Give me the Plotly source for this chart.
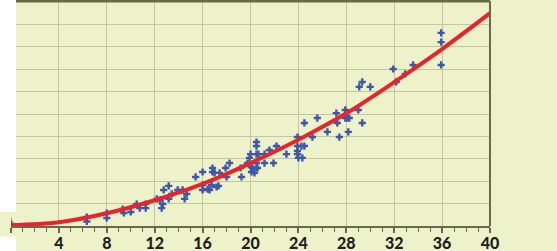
import plotly.graph_objects as go

obs_x = [6.33, 6.33, 8.0, 8.0, 9.33, 9.42, 10.0, 10.5, 10.75, 11.25, 11.25,
         12.17, 12.42, 12.58, 12.67, 12.75, 13.17, 13.17, 13.42, 13.92, 14.33, 14.5, 14.67,
         15.42, 16.0, 16.0, 16.0, 16.42, 16.58, 16.75, 16.83, 16.83, 17.0, 17.17, 17.33,
         17.42, 17.92, 18.0, 18.25, 19.25, 19.17, 19.75, 19.92, 20.0, 20.08, 20.08, 20.17,
         20.33, 20.5, 20.5, 20.5, 20.5, 20.5, 20.58, 20.67, 21.17, 21.17, 21.58, 22.17,
         21.92, 23.0, 23.92, 23.92, 23.92, 23.92, 24.0, 24.33, 24.25, 24.5, 24.5, 25.17,
         25.58, 26.42, 27.17, 27.25, 27.42, 27.92, 27.92, 28.08, 28.25, 28.17, 29.0, 29.33,
         29.08, 29.33, 30.0, 31.92, 32.17, 32.92, 33.58, 35.92, 35.92, 35.92]
obs_y = [4.0, 2.0, 5.8, 3.6, 7.6, 5.8, 6.25, 9.8, 8.0, 9.8, 8.0,
         12.1, 11.6, 8.0, 9.8, 16.1, 17.9, 12.1, 14.3, 16.1, 16.1, 12.1, 14.3,
         21.9, 24.1, 18.3, 16.1, 16.5, 16.1, 18.3, 25.9, 24.1, 23.7, 17.4, 17.9,
         23.7, 25.9, 21.9, 28.1, 21.9, 25.9, 28.1, 30.4, 32.1, 26.3, 24.1, 25.9,
         23.7, 25.9, 28.1, 32.1, 35.7, 37.5, 25.9, 32.1, 32.1, 28.1, 33.9, 35.7,
         28.1, 32.1, 39.7, 35.7, 33.5, 32.1, 30.4, 30.4, 35.7, 35.7, 46.0, 39.7,
         48.2, 42.0, 50.4, 46.0, 39.7, 51.8, 48.2, 48.2, 48.2, 42.0, 51.8, 46.0,
         62.1, 64.3, 62.1, 70.1, 64.3, 67.9, 71.9, 86.2, 82.1, 71.9]

# fitted trend curve
fit_x = [0, 4, 8, 12, 16, 20, 24, 28, 32, 36, 40]
fit_y = [0.4, 1.7, 5.7, 11.5, 18.8, 28.1, 38.5, 50.3, 64.2, 79.0, 95.0]

x_ticks = [0, 4, 8, 12, 16, 20, 24, 28, 32, 36, 40]
x_labels = [str(v) for v in x_ticks]

BG = "#eef2cb"
GRID = "#c4c69c"
AXIS = "#6a6a4a"

fig = go.Figure()
fig.add_trace(go.Scatter(
    x=obs_x, y=obs_y, mode="markers",
    marker=dict(symbol="cross", size=6, color="#3d58a6", line=dict(width=0)),
    hoverinfo="skip", showlegend=False))
fig.add_trace(go.Scatter(
    x=fit_x, y=fit_y, mode="lines", line=dict(color="#e6242b", width=4, shape="spline"),
    hoverinfo="skip", showlegend=False))

fig.update_layout(
    width=557, height=251,
    margin=dict(l=11, r=67, t=2, b=25, autoexpand=False),
    paper_bgcolor=BG, plot_bgcolor=BG,
    font=dict(family="Lato", size=16, color="#1e1e1e", weight=900),
    xaxis=dict(range=[0, 40], tickvals=x_ticks, ticktext=x_labels, automargin=False,
               showgrid=True, gridcolor=GRID, gridwidth=1,
               showline=True, linecolor=AXIS, linewidth=2,
               ticks="outside", ticklen=5, tickwidth=1.5, tickcolor=AXIS,
               ticklabelstandoff=-3,
               minor=dict(dtick=1, ticks="outside", ticklen=4, tickcolor=AXIS, tickwidth=1.2),
               zeroline=False, fixedrange=True),
    yaxis=dict(range=[0, 100], dtick=10, showticklabels=False, automargin=False,
               showgrid=True, gridcolor=GRID, gridwidth=1,
               showline=False, zeroline=False, ticks="", fixedrange=True),
    shapes=[
        dict(type="line", xref="paper", yref="paper", x0=0, x1=1, y0=1.003, y1=1.003,
             line=dict(color=AXIS, width=2.5), layer="above"),
        dict(type="line", xref="paper", yref="paper", x0=1, x1=1, y0=0, y1=1.003,
             line=dict(color=AXIS, width=2), layer="above"),
        dict(type="line", xref="x", yref="y", x0=-0.35, x1=0.2, y0=1.8, y1=1.8,
             line=dict(color="#333333", width=1), layer="above"),
        dict(type="line", xref="x", yref="y", x0=0, x1=0, y0=0, y1=3.6,
             line=dict(color="#333333", width=1), layer="above"),
        dict(type="rect", xref="paper", yref="paper", x0=-0.03, x1=0.0104, y0=0.063, y1=1.02,
             fillcolor="white", line=dict(width=0), layer="above"),
        dict(type="rect", xref="paper", yref="paper", x0=-0.03, x1=0.0104, y0=-0.2, y1=-0.047,
             fillcolor="white", line=dict(width=0), layer="above"),
    ],
)

fig.write_html("out.html", config={"displayModeBar": False},
               post_script="document.body.style.margin='0';document.body.style.overflow='hidden';")
